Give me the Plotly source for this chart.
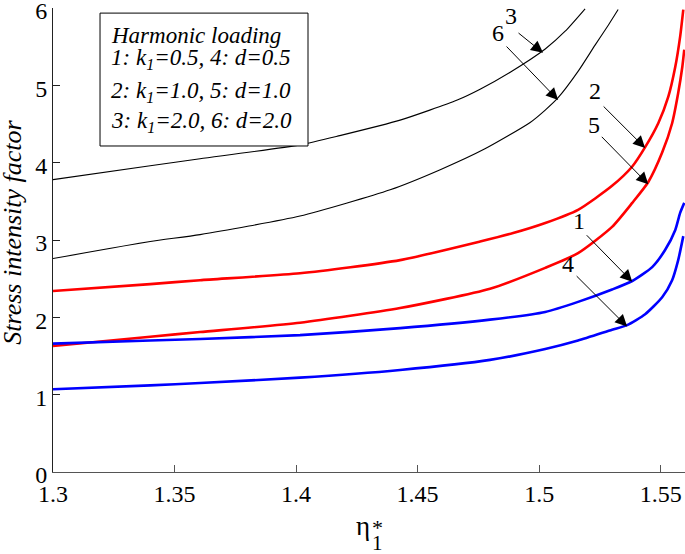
import plotly.graph_objects as go

# eta_1* values, one list per curve
x_k3 = [1.300, 1.340, 1.3605, 1.4016, 1.418, 1.4428, 1.4663, 1.4757, 1.4881, 1.5025, 1.5107, 1.5189]
y_k3 = [3.78, 3.96, 4.05, 4.23, 4.35, 4.55, 4.81, 4.95, 5.17, 5.47, 5.70, 5.99]

x_d2 = [1.300, 1.340, 1.3605, 1.4016, 1.4387, 1.4593, 1.4777, 1.4963, 1.5025, 1.5078, 1.516, 1.523,
        1.5285, 1.5325]
y_d2 = [2.76, 2.98, 3.07, 3.31, 3.65, 3.91, 4.18, 4.52, 4.68, 4.84, 5.18, 5.52,
        5.78, 5.98]

x_k2 = [1.300, 1.340, 1.3605, 1.4016, 1.4428, 1.4757, 1.4893, 1.5025, 1.516, 1.530, 1.5383,
        1.5436, 1.549, 1.5531, 1.556, 1.558, 1.5593]
y_k2 = [2.34, 2.43, 2.48, 2.57, 2.74, 2.98, 3.09, 3.22, 3.39, 3.70, 3.95,
        4.20, 4.51, 4.85, 5.24, 5.63, 5.98]

x_d1 = [1.300, 1.340, 1.3605, 1.4016, 1.4428, 1.4798, 1.5025, 1.516, 1.530, 1.5383, 1.5449,
        1.5506, 1.5547, 1.5572, 1.5589, 1.5597]
y_d1 = [1.63, 1.75, 1.81, 1.93, 2.12, 2.37, 2.64, 2.83, 3.17, 3.48, 3.75,
        4.13, 4.51, 4.90, 5.24, 5.46]

x_k1 = [1.300, 1.340, 1.3605, 1.4016, 1.4428, 1.4798, 1.5025, 1.516, 1.530, 1.5383, 1.5465,
        1.5518, 1.556, 1.558, 1.5597]
y_k1 = [1.66, 1.70, 1.72, 1.77, 1.86, 1.97, 2.07, 2.20, 2.36, 2.47, 2.65,
        2.87, 3.13, 3.35, 3.48]

x_d05 = [1.300, 1.340, 1.3605, 1.4016, 1.4428, 1.4798, 1.5025, 1.516, 1.530, 1.5362, 1.5436,
         1.5506, 1.5547, 1.5572, 1.5593]
y_d05 = [1.07, 1.12, 1.15, 1.22, 1.32, 1.45, 1.59, 1.70, 1.84, 1.90, 2.04,
         2.26, 2.48, 2.74, 3.05]

x_ticks = [1.3, 1.35, 1.4, 1.45, 1.5, 1.55]
x_tick_text = ["1.3", "1.35", "1.4", "1.45", "1.5", "1.55"]
y_ticks = [0, 1, 2, 3, 4, 5, 6]

legend_lines = [
    "Harmonic loading",
    "1: k<sub>1</sub>=0.5, 4: d=0.5",
    "2: k<sub>1</sub>=1.0, 5: d=1.0",
    "3: k<sub>1</sub>=2.0, 6: d=2.0",
]

# curve number labels and the point each arrow touches
label_text = ["3", "6", "2", "5", "1", "4"]
label_x = [1.4885, 1.4831, 1.5230, 1.5226, 1.5165, 1.5119]
label_y = [5.90, 5.68, 4.93, 4.49, 3.25, 2.69]
tip_x = [1.5016, 1.5078, 1.5436, 1.5449, 1.5383, 1.5362]
tip_y = [5.42, 4.81, 4.19, 3.72, 2.46, 1.88]
tail_dx = [-26, -53, -43, -48, -47, -52]
tail_dy = [-21, -55, -43, -49, -48, -52]

serif = "Liberation Serif"

fig = go.Figure()

curves = [
    (x_k3, y_k3, "black", 1.1),
    (x_d2, y_d2, "black", 1.1),
    (x_k2, y_k2, "#ff0000", 2.6),
    (x_d1, y_d1, "#ff0000", 2.6),
    (x_k1, y_k1, "#0000ff", 2.6),
    (x_d05, y_d05, "#0000ff", 2.6),
]
for xs, ys, color, width in curves:
    fig.add_trace(
        go.Scatter(
            x=xs,
            y=ys,
            mode="lines",
            line=dict(color=color, width=width, shape="spline", smoothing=0.6),
            showlegend=False,
        )
    )

# boxed legend text
fig.add_shape(
    type="rect",
    xref="paper",
    yref="paper",
    x0=0.0744,
    x1=0.4035,
    y0=0.7026,
    y1=0.989,
    line=dict(color="black", width=1),
    fillcolor="white",
    layer="above",
)
legend_y = [0.940, 0.8901, 0.8190, 0.7543]
for txt, yp in zip(legend_lines, legend_y):
    fig.add_annotation(
        x=0.088,
        y=yp,
        xref="paper",
        yref="paper",
        text=f"<i>{txt}</i>",
        showarrow=False,
        xanchor="left",
        yanchor="middle",
        font=dict(family=serif, size=23, color="black"),
    )

# arrows pointing at the curves
for tx, ty, dx, dy in zip(tip_x, tip_y, tail_dx, tail_dy):
    fig.add_annotation(
        x=tx,
        y=ty,
        ax=dx,
        ay=dy,
        text="",
        showarrow=True,
        arrowhead=2,
        arrowsize=2.4,
        arrowwidth=1,
        arrowcolor="black",
    )
for txt, lx, ly in zip(label_text, label_x, label_y):
    fig.add_annotation(
        x=lx,
        y=ly,
        text=txt,
        showarrow=False,
        font=dict(family=serif, size=24, color="black"),
    )

# axis titles
fig.add_annotation(
    x=-0.064,
    y=0.517,
    xref="paper",
    yref="paper",
    xanchor="center",
    yanchor="middle",
    text="<i>Stress intensity factor</i>",
    textangle=-90,
    showarrow=False,
    font=dict(family=serif, size=26, color="black"),
)
fig.add_annotation(
    x=0.491,
    y=-0.153,
    xref="paper",
    yref="paper",
    text="η",
    showarrow=False,
    font=dict(family=serif, size=27, color="black"),
)
fig.add_annotation(
    x=0.513,
    y=-0.183,
    xref="paper",
    yref="paper",
    text="1",
    showarrow=False,
    font=dict(family=serif, size=21, color="black"),
)
fig.add_annotation(
    x=0.513,
    y=-0.151,
    xref="paper",
    yref="paper",
    text="*",
    showarrow=False,
    font=dict(family=serif, size=22, color="black"),
)

fig.update_layout(
    width=685,
    height=554,
    margin=dict(l=53, r=0, t=8, b=82, autoexpand=False),
    paper_bgcolor="white",
    plot_bgcolor="white",
    font=dict(family=serif, size=24, color="black"),
)
fig.update_xaxes(
    range=[1.3, 1.56],
    tickvals=x_ticks,
    ticktext=x_tick_text,
    ticks="inside",
    ticklen=7,
    tickcolor="#555",
    showline=True,
    linecolor="#555",
    linewidth=1,
    showgrid=False,
    zeroline=False,
    automargin=False,
    ticklabeloverflow="allow",
    tickfont=dict(family=serif, size=24, color="black"),
)
fig.update_yaxes(
    range=[0, 6],
    tickvals=y_ticks,
    ticks="inside",
    ticklen=7,
    tickcolor="#222",
    showline=True,
    linecolor="#222",
    linewidth=1,
    showgrid=False,
    zeroline=False,
    automargin=False,
    ticklabeloverflow="allow",
    ticklabelshift=3,
    tickfont=dict(family=serif, size=24, color="black"),
)

# the page body has a default 8px margin; drop it so the figure sits at 0,0
fig.write_html(
    "out.html",
    config={"displayModeBar": False},
    post_script="document.body.style.margin = '0';",
)
